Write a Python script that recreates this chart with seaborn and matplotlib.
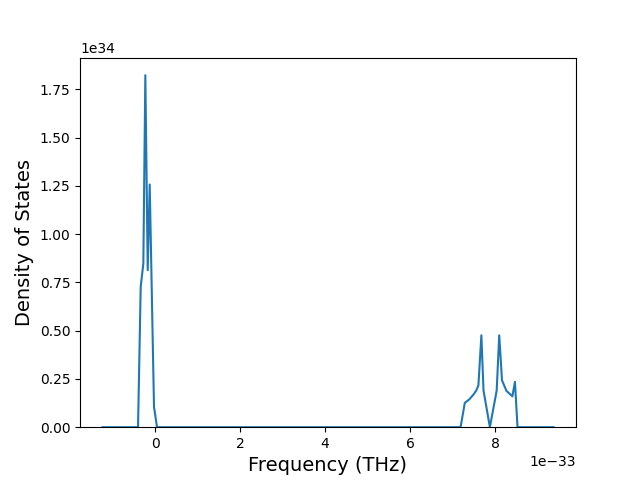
import matplotlib
matplotlib.use("Agg")
import matplotlib.pyplot as plt
import seaborn as sns
import numpy as np
import pandas as pd

# Frequency in units of 1e-33 THz, DOS in units of 1e34
frequency = [-1.235, -0.40, -0.337, -0.275, -0.228, -0.172, -0.125, -0.024, 0.047, 1.0, 3.0, 5.0,
             7.19, 7.29, 7.40, 7.49, 7.56, 7.61, 7.68, 7.73, 7.88, 8.04, 8.10, 8.165, 8.27,
             8.41, 8.47, 8.53, 9.0, 9.376]
dos = [0.0, 0.0, 0.727, 0.848, 1.823, 0.813, 1.257, 0.105, 0.0, 0.0, 0.0, 0.0,
       0.0, 0.126, 0.145, 0.168, 0.19, 0.217, 0.476, 0.19, 0.0, 0.19, 0.476, 0.243, 0.188,
       0.16, 0.235, 0.0, 0.0, 0.0]

df = pd.DataFrame({"freq": np.array(frequency) * 1e-33, "dos": np.array(dos) * 1e34})

fig, ax = plt.subplots(figsize=(6.4, 4.8), dpi=100)
sns.lineplot(data=df, x="freq", y="dos", ax=ax, sort=False)
ax.set_ylim(bottom=0)
ax.set_xlabel("Frequency (THz)", fontsize=14)
ax.set_ylabel("Density of States", fontsize=14)
fig.savefig("out.png", dpi=100)
